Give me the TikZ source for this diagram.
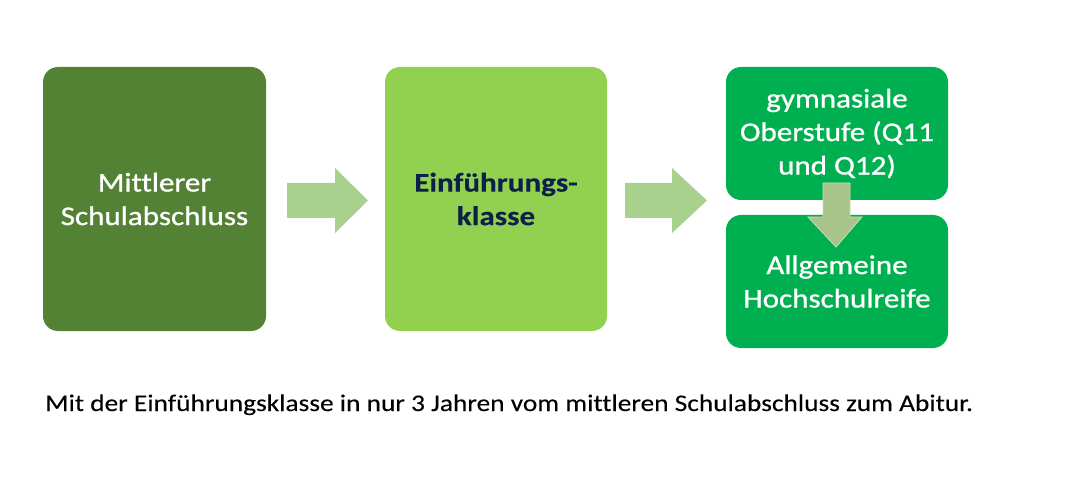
\documentclass[tikz,border=0pt]{standalone}
\usepackage{fontspec}
\setmainfont{Carlito}[FakeStretch=1.15, Ligatures=NoCommon, FakeBold=0.15]
\newfontfamily\boxfont{Carlito}[FakeStretch=1.15, Ligatures=NoCommon, FakeBold=0.9]
\definecolor{darkg}{HTML}{548235}
\definecolor{lightg}{HTML}{92D050}
\definecolor{midg}{HTML}{00B050}
\definecolor{arrowg}{HTML}{A9D18E}
\definecolor{downg}{HTML}{A8C48A}
\definecolor{downedge}{HTML}{C8DDB4}
\definecolor{navy}{HTML}{0E1F4A}
\begin{document}
\begin{tikzpicture}[x=1pt,y=-1pt,
  boxst/.style={inner sep=0pt, align=center, text=white,
     font=\boxfont\fontsize{27}{33.5}\selectfont},
  arrowst/.style={fill=arrowg, draw=none}]
\useasboundingbox (0,0) rectangle (1080,500);
\fill[white] (0,0) rectangle (1080,500);
% boxes
\fill[darkg, rounded corners=15pt] (43,67) rectangle (266,331);
\node[boxst] (b1) at (154.5,199) {Mittlerer\\Schulabschluss};
\fill[lightg, rounded corners=15pt] (385,67) rectangle (607,331);
\node[boxst, text=navy, font=\rmfamily\fontsize{27}{33.5}\selectfont\bfseries] (b2) at (496,199) {Einführungs-\\klasse};
\fill[midg, rounded corners=15pt] (726,67) rectangle (948,200);
\node[boxst] (b3) at (837,133.5) {gymnasiale\\Oberstufe (Q11\\und Q12)};
\fill[midg, rounded corners=15pt] (726,215) rectangle (948,348);
\node[boxst] (b4) at (837,281.5) {Allgemeine\\Hochschulreife};
% arrows
\fill[arrowst] (287,183) -- (335,183) -- (335,168) -- (368,200.5) -- (335,233) -- (335,218) -- (287,218) -- cycle;
\fill[arrowst] (625,183) -- (672,183) -- (672,168) -- (707,200.5) -- (672,233) -- (672,218) -- (625,218) -- cycle;
\filldraw[fill=downg, draw=downedge, line width=0.8pt] (823,183) -- (850,183) -- (850,217) -- (862,217) -- (836,247) -- (808,217) -- (823,217) -- cycle;
% caption
\node[anchor=base west, inner sep=0pt, font=\fontsize{23.8}{28}\selectfont] (cap) at (45,411) {Mit der Einführungsklasse in nur 3 Jahren vom mittleren Schulabschluss zum Abitur.};
\end{tikzpicture}
\end{document}
